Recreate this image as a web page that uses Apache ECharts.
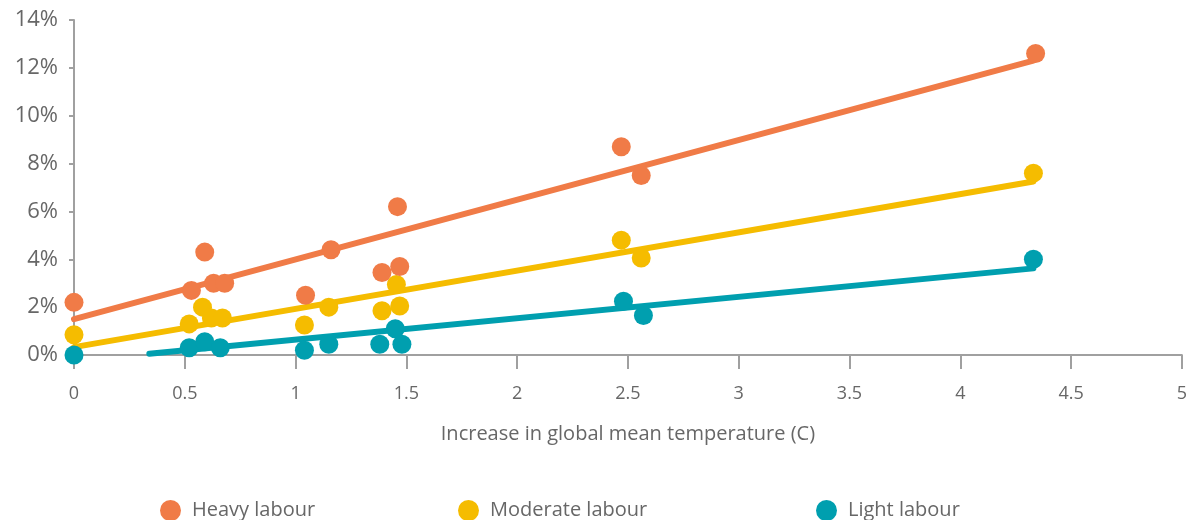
<!DOCTYPE html>
<html>
<head>
<meta charset="utf-8">
<script src="https://cdn.jsdelivr.net/npm/echarts@6/dist/echarts.min.js"></script>
<style>
  html, body { margin: 0; padding: 0; background: #ffffff; }
  #chart { width: 1190px; height: 520px; }
</style>
</head>
<body>
<div id="chart"></div>
<script>
// Labour productivity loss (%) against increase in global mean temperature (C)
const seriesNames = ['Heavy labour', 'Moderate labour', 'Light labour'];

const heavyPoints = [
  [0, 2.2], [0.53, 2.7], [0.59, 4.3], [0.63, 3.0], [0.68, 3.0],
  [1.045, 2.5], [1.16, 4.4], [1.39, 3.45], [1.46, 6.2], [1.47, 3.7],
  [2.47, 8.7], [2.56, 7.5], [4.34, 12.6]
];
const moderatePoints = [
  [0, 0.85], [0.52, 1.3], [0.58, 2.0], [0.62, 1.55], [0.67, 1.55],
  [1.04, 1.25], [1.15, 2.0], [1.39, 1.85], [1.455, 2.95], [1.47, 2.05],
  [2.47, 4.8], [2.56, 4.05], [4.33, 7.6]
];
const lightPoints = [
  [0, 0], [0.52, 0.3], [0.59, 0.55], [0.66, 0.3],
  [1.04, 0.2], [1.15, 0.45], [1.38, 0.45], [1.45, 1.1], [1.48, 0.45],
  [2.48, 2.25], [2.57, 1.65], [4.33, 4.0]
];

// Fitted trend lines (start and end points)
const heavyTrend = [[0, 1.5], [4.33, 12.3]];
const moderateTrend = [[0, 0.33], [4.33, 7.25]];
const lightTrend = [[0.34, 0.05], [4.33, 3.62]];

const xTicks = { min: 0, max: 5, interval: 0.5 };
const yTicks = { min: 0, max: 14, interval: 2 };

const colors = ['#F07B47', '#F5BC00', '#009FAF'];
const axisGray = '#a0a0a0';
const textGray = '#676767';
const fontFamily = '"Open Sans", "DejaVu Sans", sans-serif';

const chart = echarts.init(document.getElementById('chart'), null, { renderer: 'canvas' });

function trendSeries(data, color) {
  return {
    type: 'line',
    data: data,
    symbol: 'none',
    silent: true,
    z: 2,
    lineStyle: { color: color, width: 6, cap: 'round' }
  };
}

function pointSeries(name, data, color, z) {
  return {
    name: name,
    type: 'scatter',
    data: data,
    symbol: 'circle',
    symbolSize: 19,
    z: z,
    itemStyle: { color: color, opacity: 1 }
  };
}

function legendAt(left, name) {
  return {
    data: [{ name: name, icon: 'circle' }],
    left: left,
    top: 495,
    itemWidth: 21,
    itemHeight: 21,
    textStyle: {
      color: textGray,
      fontSize: 20,
      fontFamily: fontFamily,
      padding: [0, 0, 0, 6]
    }
  };
}

chart.setOption({
  animation: false,
  color: colors,
  grid: { left: 74, right: 8, top: 20, bottom: 165, containLabel: false },
  legend: [
    legendAt(155, seriesNames[0]),
    legendAt(453, seriesNames[1]),
    legendAt(811, seriesNames[2])
  ],
  xAxis: {
    type: 'value',
    min: xTicks.min,
    max: xTicks.max,
    interval: xTicks.interval,
    name: 'Increase in global mean temperature (C)',
    nameLocation: 'middle',
    nameGap: 69,
    nameTextStyle: { color: textGray, fontSize: 20, fontFamily: fontFamily },
    axisLine: { show: true, lineStyle: { color: axisGray, width: 2 } },
    axisTick: { show: true, length: 14, lineStyle: { color: axisGray, width: 2 } },
    axisLabel: { color: textGray, fontSize: 18, fontFamily: fontFamily, margin: 30 },
    splitLine: { show: false }
  },
  yAxis: {
    type: 'value',
    min: yTicks.min,
    max: yTicks.max,
    interval: yTicks.interval,
    axisLine: { show: true, lineStyle: { color: axisGray, width: 2 } },
    axisTick: { show: true, length: 5, lineStyle: { color: axisGray, width: 2 } },
    axisLabel: {
      color: textGray, fontSize: 22, fontFamily: fontFamily, margin: 16,
      formatter: '{value}%'
    },
    splitLine: { show: false }
  },
  series: [
    trendSeries(heavyTrend, colors[0]),
    trendSeries(moderateTrend, colors[1]),
    trendSeries(lightTrend, colors[2]),
    pointSeries(seriesNames[2], lightPoints, colors[2], 3),
    pointSeries(seriesNames[1], moderatePoints, colors[1], 4),
    pointSeries(seriesNames[0], heavyPoints, colors[0], 5)
  ]
});
</script>
</body>
</html>
